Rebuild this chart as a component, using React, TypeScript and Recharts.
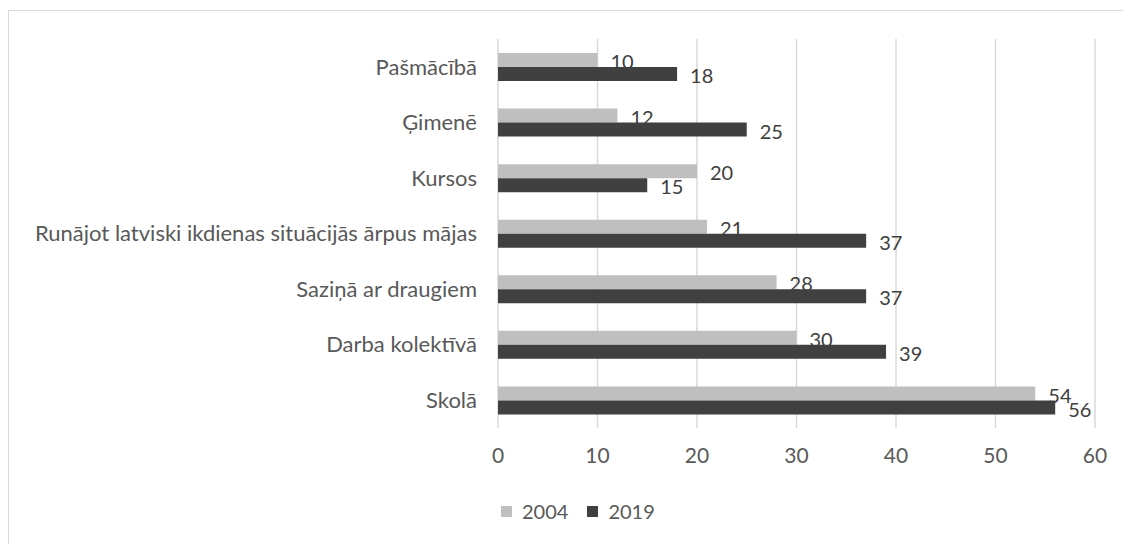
import { BarChart, Bar, XAxis, YAxis, CartesianGrid, Legend, LabelList } from 'recharts'

// Kategorijas (no augšas uz leju)
const categories = [
  'Pašmācībā',
  'Ģimenē',
  'Kursos',
  'Runājot latviski ikdienas situācijās ārpus mājas',
  'Saziņā ar draugiem',
  'Darba kolektīvā',
  'Skolā',
]
const values2004 = [10, 12, 20, 21, 28, 30, 54]
const values2019 = [18, 25, 15, 37, 37, 39, 56]
const xTicks = [0, 10, 20, 30, 40, 50, 60]

const data = categories.map((name, i) => ({
  name,
  y2004: values2004[i],
  y2019: values2019[i],
}))

const FONT = 'Lato, "Open Sans", sans-serif'
const AXIS_TEXT = '#595959'
const LABEL_TEXT = '#404040'
const COLOR_2004 = '#BFBFBF'
const COLOR_2019 = '#404040'

function LegendContent() {
  const items = [
    { label: '2004', color: COLOR_2004 },
    { label: '2019', color: COLOR_2019 },
  ]
  return (
    <div
      style={{
        display: 'flex',
        alignItems: 'center',
        paddingLeft: 492,
        paddingTop: 35,
        fontFamily: FONT,
        fontSize: 20,
        color: AXIS_TEXT,
      }}
    >
      {items.map((it) => (
        <div key={it.label} style={{ display: 'flex', alignItems: 'center', marginRight: 19 }}>
          <span style={{ width: 11, height: 11, background: it.color, marginRight: 10, display: 'inline-block' }} />
          <span>{it.label}</span>
        </div>
      ))}
    </div>
  )
}

export default function App() {
  return (
    <>
      <style>{'body{margin:0;overflow:hidden}'}</style>
      <div
        style={{
          position: 'absolute',
          left: 8,
          top: 10,
          width: 1115,
          height: 534,
          boxSizing: 'border-box',
          borderLeft: '1px solid #D9D9D9',
          borderTop: '1px solid #D9D9D9',
          fontFamily: FONT,
        }}
      >
        <BarChart
          width={1114}
          height={533}
          data={data}
          layout="vertical"
          margin={{ top: 28, right: 28, bottom: 10, left: 8 }}
          barCategoryGap="25%"
          barGap={0}
        >
          <CartesianGrid horizontal={false} stroke="#D9D9D9" strokeWidth={1.5} />
          <XAxis
            type="number"
            domain={[0, 60]}
            ticks={xTicks}
            axisLine={false}
            tickLine={false}
            tickSize={0}
            tickMargin={20}
            height={36}
            tick={{ fill: AXIS_TEXT, fontSize: 21, fontFamily: FONT }}
          />
          <YAxis
            type="category"
            dataKey="name"
            width={481}
            axisLine={false}
            tickLine={false}
            tickSize={0}
            tickMargin={21}
            interval={0}
            tick={{ fill: AXIS_TEXT, fontSize: 22, fontFamily: FONT }}
          />
          <Legend
            verticalAlign="bottom"
            content={<LegendContent />}
            wrapperStyle={{ left: 0, top: 453, width: 1114, height: 70 }}
          />
          <Bar dataKey="y2004" name="2004" fill={COLOR_2004} barSize={14} isAnimationActive={false}>
            <LabelList
              dataKey="y2004"
              position="right"
              offset={13}
              dy={2}
              fill={LABEL_TEXT}
              fontSize={20}
              fontFamily={FONT}
            />
          </Bar>
          <Bar dataKey="y2019" name="2019" fill={COLOR_2019} barSize={14} isAnimationActive={false}>
            <LabelList
              dataKey="y2019"
              position="right"
              offset={13}
              dy={2}
              fill={LABEL_TEXT}
              fontSize={20}
              fontFamily={FONT}
            />
          </Bar>
        </BarChart>
      </div>
    </>
  )
}
